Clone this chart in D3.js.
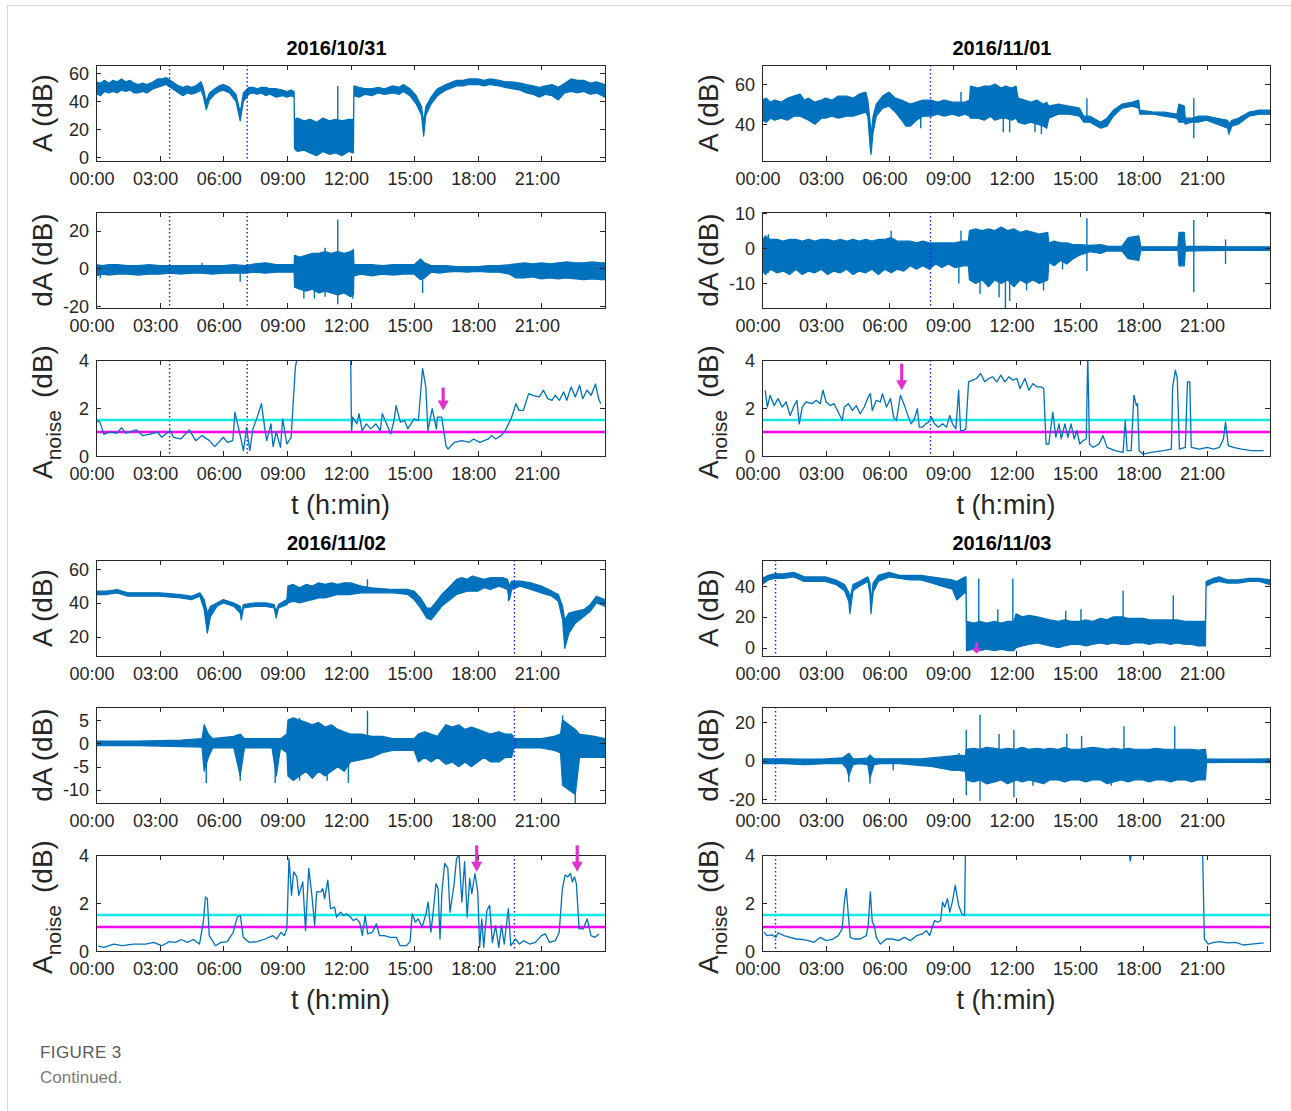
<!DOCTYPE html>
<html><head><meta charset="utf-8">
<script src="https://cdn.jsdelivr.net/npm/d3@7"></script>
<style>
body{margin:0;background:#fff;}
svg text{font-family:"Liberation Sans", Arial, Helvetica, sans-serif;}
</style></head><body>
<svg id="fig" width="1291" height="1111"></svg>
<script>
/* Four days of ground-wave amplitude: A, its derivative dA and the noise level.
   Dense noisy traces are kept as [hour, low, high] envelopes,
   isolated spikes as [hour, from, to], the noise level as [hour, value]. */

const X_TICKS = [0, 3, 6, 9, 12, 15, 18, 21];
const N_TICKS = [0, 2, 4];
const CYAN_LEVEL = 1.5, MAGENTA_LEVEL = 1.0;

// ---------- 2016/10/31 ----------
const A_1031 = [[0,46,54],[0.2,44,53],[0.4,47,55],[0.6,46,53],[0.8,47,55],[1,46,54],[1.2,48,56],[1.4,47,54],[1.6,48,55],[1.8,46,53],[2,46,52],[2.2,47,53],[2.4,46,52],[2.7,49,54],[2.9,50,56],[3.1,51,56],[3.3,52,57],[3.5,50,55],[3.7,48,53],[3.9,46,51],[4.1,44,50],[4.3,46,51],[4.5,45,50],[4.7,46,51],[4.95,48,54],[5.05,44,50],[5.2,34,40],[5.35,41,46],[5.6,45,49],[5.8,47,51],[6,48,52],[6.3,46,50],[6.6,40,45],[6.8,26,32],[6.95,40,46],[7.2,45,50],[7.4,46,50],[7.6,45,49],[7.8,46,50],[8,44,50],[8.2,45,49],[8.5,43,49],[8.8,44,48],[9,43,47],[9.2,44,48],[9.34,43,47],[9.36,6,27],[9.5,4,28],[9.8,5,26],[10.1,3,27],[10.4,1,25],[10.7,4,28],[11,2,26],[11.3,3,27],[11.6,1,26],[11.9,4,27],[12.14,3,27],[12.16,44,51],[12.4,43,50],[12.7,45,49],[13,44,49],[13.3,46,50],[13.6,45,49],[14,46,51],[14.3,45,50],[14.5,47,52],[14.8,44,49],[15.1,38,44],[15.35,30,36],[15.45,15,25],[15.55,30,36],[15.8,38,43],[16.1,44,49],[16.5,48,52],[17,51,55],[17.3,51,55],[17.6,52,56],[18,52,56],[18.3,51,55],[18.6,52,56],[19,51,55],[19.3,50,54],[19.6,49,54],[20,48,53],[20.3,46,52],[20.6,45,51],[20.9,43,50],[21.2,45,51],[21.5,44,52],[21.8,41,50],[22.1,46,53],[22.4,47,56],[22.7,46,55],[23,47,55],[23.3,45,53],[23.6,46,54],[24,43,52]];
const A_1031_SPIKES = [[11.4,27,51]];
const DA_1031 = [[0,-4,2],[0.3,-3,1.5],[0.6,-3.5,2],[1,-3,2],[1.5,-3,1.5],[2,-3.5,1.5],[2.5,-3,2],[3,-3,1.5],[3.5,-2.5,1.5],[4,-3,1.5],[4.5,-2.5,1.5],[5,-2.5,1.5],[5.5,-3,1.5],[6,-2.5,1.5],[6.5,-2.5,2],[7,-2.5,1.5],[7.5,-2,2.5],[8,-2.5,3],[8.5,-2,2],[9,-2,2],[9.34,-2,2],[9.36,-10,7],[9.6,-11,6],[9.9,-12,7],[10.2,-11,8],[10.5,-13,8],[10.8,-12,9],[11.1,-13,8],[11.4,-14,9],[11.7,-13,8],[12,-15,9],[12.14,-14,10],[12.16,-4,2],[12.5,-3,2],[13,-4,2],[13.5,-3,1.5],[14,-3.5,2],[14.5,-3,2],[15,-3,2],[15.3,-6,5],[15.5,-5,3],[15.8,-2,1.5],[16.2,-2.5,1.5],[16.5,-2,1.5],[17,-1.5,1],[17.5,-2,1],[18,-1.5,1],[18.5,-2,1.5],[19,-2,1.5],[19.5,-3,2],[19.8,-5,2.5],[20.2,-5,3],[20.6,-4.5,2.5],[21,-5.5,3],[21.4,-5,2.5],[21.8,-5.5,3],[22.2,-5,3.5],[22.6,-5.5,3],[23,-6,3],[23.4,-5.5,3.5],[23.8,-6,3],[24,-6,3]];
const DA_1031_SPIKES = [[6.8,-7,0],[9.8,-16,0],[10.8,-15,11],[11.4,-19,26],[12.1,-16,0],[15.4,-13,0],[5.0,0,3],[0.2,-5,0],[10.3,-16,0]];
const N_1031 = [[0,1.48],[0.19,1.41],[0.37,0.9],[0.66,1.0],[1.0,0.95],[1.2,1.18],[1.4,0.95],[1.9,1.09],[2.2,0.85],[2.5,0.9],[2.9,1.0],[3.1,0.78],[3.5,1.06],[3.65,0.78],[4.0,0.71],[4.4,1.09],[4.7,0.64],[5.0,0.85],[5.35,0.64],[5.6,0.39],[6.0,0.78],[6.2,0.57],[6.45,0.64],[6.55,1.83],[6.75,1.06],[6.95,0.22],[7.1,1.18],[7.25,0.22],[7.4,1.13],[7.6,1.62],[7.8,2.18],[7.95,1.2],[8.05,0.64],[8.25,1.34],[8.35,0.39],[8.5,1.0],[8.7,0.36],[8.8,1.55],[9.0,0.5],[9.2,0.78],[9.4,3.7],[9.55,4.4],[9.8,4.6],[10.0,3.97],[10.1,4.5],[11,4.8],[12.0,4.6],[12.05,1.0],[12.1,1.62],[12.3,1.34],[12.4,1.76],[12.55,1.06],[12.75,1.34],[12.95,1.13],[13.2,1.34],[13.4,1.06],[13.5,1.76],[13.7,1.34],[13.9,0.92],[14.05,1.48],[14.15,2.1],[14.35,1.41],[14.55,1.48],[14.7,1.13],[15.0,1.55],[15.2,1.48],[15.4,3.65],[15.55,2.88],[15.65,1.06],[15.85,1.97],[16.05,1.13],[16.1,1.62],[16.3,1.62],[16.5,0.43],[16.6,0.29],[16.9,0.57],[17.25,0.64],[17.6,0.57],[17.8,0.71],[18.1,0.57],[18.5,0.71],[18.65,0.85],[18.85,0.71],[19.1,0.85],[19.3,1.06],[19.6,1.62],[19.8,2.18],[19.95,1.9],[20.15,1.9],[20.4,2.6],[20.6,2.53],[20.9,2.46],[21.1,2.74],[21.3,2.39],[21.5,2.32],[21.65,2.53],[21.85,2.32],[22.05,2.67],[22.2,2.32],[22.4,2.88],[22.6,2.46],[22.8,2.95],[22.95,2.39],[23.15,2.74],[23.35,2.53],[23.55,3.0],[23.7,2.39],[23.8,2.18]];
const MARK_1031 = [3.47, 7.13];
const ARROW_1031 = [[16.37, 2.85, 1.9]];          // [hour, top, tip] in the noise panel
const A_1031_Y = [-2.8, 66], A_1031_TICKS = [0, 20, 40, 60];
const DA_1031_Y = [-21, 30], DA_1031_TICKS = [-20, 0, 20];

// ---------- 2016/11/01 ----------
const A_1101 = [[0,42,52],[0.2,41,53],[0.4,43,51],[0.6,42,52],[0.9,43,51],[1.2,42,53],[1.5,44,54],[1.8,44,55],[2.0,43,52],[2.2,42,53],[2.5,40,51],[2.8,43,52],[3,43,53],[3.3,44,52],[3.6,43,54],[4,44,54],[4.3,44,53],[4.6,45,55],[4.9,46,56],[5.0,44,52],[5.1,30,42],[5.15,25,35],[5.25,36,44],[5.4,44,50],[5.7,48,54],[6,49,56],[6.3,46,53],[6.6,42,52],[6.8,39,51],[7,39,50],[7.3,42,51],[7.6,44,52],[8,44,52],[8.3,45,51],[8.6,44,52],[9,45,51],[9.3,44,51],[9.6,45,51],[9.8,44,52],[9.85,43,59],[10.2,43,58],[10.5,42,59],[10.8,44,59],[11,42,60],[11.3,43,58],[11.5,43,59],[11.8,42,58],[12,43,59],[12.1,41,53],[12.4,40,52],[12.7,41,51],[13,40,52],[13.3,39,50],[13.45,38,51],[13.55,43,49],[14,45,50],[14.5,45,49],[15,44,48],[15.2,41,44],[15.5,41,44],[16,38,41],[16.3,39,43],[16.6,44,47],[17,48,50],[17.5,49,51],[17.8,48,52],[17.85,45,47],[18.5,45,46],[19,44,46],[19.6,43,45],[19.7,41,50],[19.95,41,49],[20.0,40,43],[20.3,41,43],[20.6,41,44],[21,42,44],[21.5,40,43],[22,38,42],[22.05,35,40],[22.2,39,42],[22.5,40,43],[23,44,46],[23.5,45,47],[24,45,47]];
const A_1101_SPIKES = [[9.4,49,56],[11.4,36,45],[11.7,36,45],[13.2,35,45],[15.35,42,53],[20.4,33,53],[7.5,38,44],[12.9,36,44]];
const DA_1101 = [[0,-6,2],[0.15,-7.5,3.5],[0.4,-6,2.5],[0.7,-7,2.5],[1.0,-6.5,2],[1.3,-7.5,2.5],[1.6,-6,2.5],[1.9,-7.5,2],[2.2,-6.5,2.5],[2.5,-7,2],[2.8,-6,2.5],[3.1,-7.5,2.5],[3.4,-6.5,2],[3.7,-7,2.5],[4.0,-6,2],[4.3,-7.5,2.5],[4.6,-6.5,2],[4.9,-7,2.5],[5.2,-6,2],[5.5,-7.5,2.5],[5.8,-6,2.5],[6.1,-7,3],[6.4,-6,2],[6.7,-6.5,2],[7.0,-5,2],[7.3,-6,1.5],[7.6,-5,2],[7.9,-6,1.5],[8.2,-4.5,1.5],[8.5,-5.5,1.5],[8.8,-4.5,1.5],[9.1,-5.5,1.5],[9.5,-5,2],[9.75,-5,2],[9.8,-9,5],[10.1,-10,5.5],[10.4,-9,5],[10.7,-11,5.5],[11.0,-9,5],[11.3,-10,6],[11.6,-9,5],[11.9,-11,5.5],[12.2,-9,4.5],[12.5,-10,5],[12.8,-9,4.5],[13.1,-10,4],[13.5,-9,4.5],[13.55,-4,1.5],[13.8,-5,2],[14.1,-3.5,1.5],[14.4,-4.5,1.5],[14.7,-3,1],[15,-2,1],[15.5,-1,0.8],[16,-1.5,1],[16.3,-0.8,0.6],[17,-0.8,0.5],[17.3,-3,3],[17.8,-3.5,3.5],[17.9,-0.6,0.4],[19,-0.6,0.4],[19.65,-0.6,0.4],[19.7,-5,4.5],[19.95,-5,4.5],[20.0,-0.8,0.5],[21,-0.7,0.5],[22,-0.6,0.4],[23,-0.6,0.4],[24,-0.6,0.4]];
const DA_1101_SPIKES = [[0.3,-7,4],[6.1,0,5],[9.3,-10,0],[9.4,0,5],[11.5,-17,0],[11.7,-15,0],[12.5,-12,0],[13.3,-12,0],[15.35,-6.5,8.5],[20.4,-12.5,8],[21.9,-4.5,2.5],[14.2,-6,0],[10.3,-13,0],[11.2,-14,0]];
const N_1101 = [[0.15,2.74],[0.25,2.04],[0.38,2.53],[0.57,2.1],[0.76,2.39],[0.95,2.04],[1.14,2.25],[1.33,1.69],[1.52,2.1],[1.65,2.32],[1.76,1.34],[1.9,2.04],[2.08,2.25],[2.37,2.18],[2.56,2.32],[2.75,2.18],[2.88,2.74],[3.03,2.25],[3.22,2.1],[3.41,2.18],[3.6,1.83],[3.79,1.48],[3.89,2.04],[4.08,2.18],[4.27,1.9],[4.45,2.1],[4.64,1.76],[4.83,2.04],[5.02,2.46],[5.12,2.6],[5.21,1.9],[5.4,2.32],[5.59,2.25],[5.69,2.6],[5.88,2.04],[6.07,2.39],[6.22,1.62],[6.35,1.48],[6.54,2.53],[6.73,2.1],[6.92,1.62],[7.05,1.34],[7.2,1.55],[7.34,1.97],[7.43,1.2],[7.58,1.2],[7.73,1.34],[7.87,1.41],[8.0,1.62],[8.15,1.34],[8.34,1.2],[8.53,1.34],[8.72,1.2],[8.87,1.69],[9.0,1.34],[9.16,1.13],[9.29,2.74],[9.38,1.06],[9.52,1.06],[9.63,1.13],[9.76,3.09],[9.95,3.16],[10.14,3.23],[10.33,3.44],[10.52,3.09],[10.71,3.23],[10.9,3.3],[11.09,3.09],[11.28,3.37],[11.47,3.09],[11.66,3.3],[11.85,3.16],[12.04,3.23],[12.19,2.81],[12.42,3.23],[12.61,2.74],[12.8,3.02],[12.99,2.88],[13.18,2.88],[13.31,2.81],[13.42,0.5],[13.55,0.5],[13.74,1.83],[13.88,0.78],[14.03,1.34],[14.14,0.71],[14.31,1.34],[14.45,0.78],[14.6,1.34],[14.75,0.71],[14.88,1.06],[15.01,0.5],[15.17,0.64],[15.32,0.71],[15.39,4.2],[15.47,0.5],[15.64,0.36],[15.92,0.5],[16.11,0.85],[16.3,0.36],[16.68,0.22],[17.06,0.15],[17.16,1.48],[17.25,0.22],[17.44,0.22],[17.57,2.53],[17.69,2.1],[17.74,2.18],[17.82,0.22],[18.0,0.08],[18.39,0.15],[18.96,0.22],[19.34,0.29],[19.4,2.88],[19.53,3.58],[19.62,3.23],[19.72,0.29],[20.0,0.36],[20.1,3.09],[20.21,3.09],[20.28,0.36],[20.66,0.29],[21.04,0.36],[21.33,0.29],[21.61,0.36],[21.8,0.71],[21.9,1.41],[22.03,0.43],[22.27,0.36],[22.65,0.29],[23.13,0.22],[23.7,0.22]];
const MARK_1101 = [7.96];
const ARROW_1101 = [[6.6, 3.85, 2.74]];
const A_1101_Y = [21.7, 69.5], A_1101_TICKS = [40, 60];
const DA_1101_Y = [-17, 10.3], DA_1101_TICKS = [-10, 0, 10];

// ---------- 2016/11/02 ----------
const A_1102 = [[0,45,47],[0.5,45,47],[1,46,48],[1.5,44,46],[2,44,46],[3,44,46],[4,43,45],[4.5,42,44],[4.9,44,46],[5.1,36,42],[5.25,22,34],[5.4,32,38],[5.7,38,40],[6,40,42],[6.5,38,40],[6.8,34,38],[6.85,30,34],[6.95,37,39],[7.5,38,40],[8,38,40],[8.4,37,39],[8.5,31,35],[8.6,37,39],[9,39,42],[9.05,40,50],[9.3,41,51],[9.6,40,49],[9.9,41,51],[10.2,42,50],[10.5,43,52],[10.8,43,51],[11.1,44,52],[11.4,45,51],[11.7,45,52],[12,45,52],[12.5,46,50],[13,46,49],[14,46,48],[14.7,45,48],[15,42,47],[15.3,37,43],[15.6,31,37],[15.8,30,37],[16,33,40],[16.3,38,45],[16.7,42,50],[17,45,54],[17.25,46,55],[17.5,47,54],[17.75,47,56],[18,47,55],[18.3,49,54],[18.6,48,55],[19,50,55],[19.2,49,55],[19.4,48,54],[19.5,42,50],[19.6,48,53],[20,50,53],[20.5,48,52],[21,46,50],[21.5,44,47],[21.8,41,45],[22.0,30,38],[22.1,13,30],[22.3,22,34],[22.6,28,35],[23,32,36],[23.3,35,39],[23.6,40,44],[24,38,42]];
const A_1102_SPIKES = [[12.8,48,54],[19.45,41,50]];
const DA_1102 = [[0,-0.5,0.5],[2,-0.5,0.5],[4,-0.7,0.7],[5,-0.8,1],[5.1,-6,4],[5.3,-3,2],[5.5,-1,1],[6.5,-1,1.5],[6.8,-7,2],[7,-1,1],[8.3,-1,1],[8.5,-7,1],[8.7,-1,1],[9,-2,2],[9.05,-7,5],[9.3,-8,5.5],[9.6,-7,5],[9.9,-6,4.5],[10.2,-7.5,4],[10.5,-6,4.5],[10.8,-7,3.5],[11.1,-6,4],[11.4,-5,3],[11.7,-6,2.5],[12,-4,2],[12.5,-3.5,2],[13,-3,1.5],[13.5,-2,1.5],[14,-1.5,1],[15,-1.5,1],[15.2,-4,2],[15.5,-3,2.5],[15.8,-4,2],[16.1,-3,1.5],[16.5,-4.5,4],[16.8,-4,3.5],[17.1,-5,4],[17.4,-4,3],[17.7,-5,3.5],[18,-4,3],[18.3,-3,2.5],[18.6,-4,2],[19,-4,2.5],[19.3,-3,2],[19.6,-3,2],[19.7,-1,1],[21,-1,1],[21.6,-1.5,1.5],[21.9,-2,2],[22.0,-9,5],[22.3,-10,4],[22.6,-11,3],[22.8,-3,2],[23.5,-3,1.5],[24,-3,1]];
const DA_1102_SPIKES = [[5.2,-8.5,0],[6.8,-8,0],[8.45,-8.5,0],[9.6,-8,5.5],[11.9,-8.5,0],[12.8,0,7],[22.6,-12.8,0],[22.0,0,6],[10.9,-8,0]];
const N_1102 = [[0.1,0.2],[0.37,0.15],[0.84,0.29],[1.22,0.22],[1.78,0.29],[2.34,0.29],[2.72,0.36],[3.1,0.22],[3.47,0.39],[3.75,0.36],[4.03,0.48],[4.31,0.36],[4.59,0.48],[4.88,0.29],[5.06,1.2],[5.16,2.25],[5.25,2.18],[5.34,0.64],[5.63,0.22],[5.9,0.36],[6.19,0.39],[6.47,0.78],[6.66,1.41],[6.81,1.48],[6.94,0.57],[7.22,0.36],[7.59,0.39],[7.97,0.5],[8.34,0.64],[8.53,0.5],[8.72,0.78],[8.87,0.64],[9.0,0.92],[9.1,3.86],[9.22,2.32],[9.32,3.3],[9.47,3.09],[9.56,2.32],[9.75,2.88],[9.88,0.85],[10.03,3.44],[10.18,2.32],[10.31,1.06],[10.4,2.46],[10.6,2.46],[10.69,2.6],[10.78,2.18],[10.93,2.95],[11.06,1.76],[11.25,1.83],[11.34,1.41],[11.53,1.62],[11.68,1.48],[11.81,1.55],[12.0,1.41],[12.13,1.27],[12.28,1.34],[12.43,1.2],[12.56,0.64],[12.69,1.48],[12.81,0.71],[13.03,0.78],[13.22,1.13],[13.37,0.64],[13.59,0.64],[13.87,0.57],[14.16,0.57],[14.34,0.22],[14.63,0.22],[14.81,0.39],[14.91,1.55],[15.06,1.2],[15.19,1.34],[15.38,1.0],[15.56,1.55],[15.66,2.04],[15.79,0.78],[15.9,1.62],[16.03,2.81],[16.13,2.6],[16.22,0.5],[16.31,2.46],[16.44,3.65],[16.59,3.44],[16.69,1.62],[16.88,2.74],[17.0,3.86],[17.12,4.0],[17.25,2.04],[17.38,3.72],[17.5,1.41],[17.62,3.02],[17.72,2.39],[17.87,3.23],[18.0,2.46],[18.09,0.15],[18.19,1.34],[18.28,0.15],[18.43,1.69],[18.56,1.9],[18.69,0.36],[18.84,1.06],[18.99,0.15],[19.12,1.06],[19.25,0.29],[19.44,1.76],[19.56,0.22],[19.78,0.5],[19.97,0.29],[20.16,0.43],[20.44,0.29],[20.72,0.36],[21.0,0.64],[21.19,0.71],[21.38,0.36],[21.66,0.43],[21.84,0.78],[21.99,2.6],[22.12,3.16],[22.25,3.09],[22.37,3.23],[22.46,2.88],[22.56,3.09],[22.65,2.81],[22.78,0.92],[22.97,0.92],[23.16,1.34],[23.34,0.64],[23.53,0.57],[23.72,0.71]];
const MARK_1102 = [19.73];
const ARROW_1102 = [[17.95, 4.4, 3.3], [22.69, 4.4, 3.3]];
const A_1102_Y = [8.5, 65.5], A_1102_TICKS = [20, 40, 60];
const DA_1102_Y = [-12.8, 7.8], DA_1102_TICKS = [-10, -5, 0, 5];

// ---------- 2016/11/03 ----------
const A_1103 = [[0,41,45],[0.3,44,47],[0.6,45,48],[1,45,48],[1.5,46,49],[2,43,46],[2.5,43,46],[3,43,46],[3.5,41,44],[3.9,37,41],[4.1,30,36],[4.15,22,32],[4.3,37,41],[4.6,40,43],[5,43,46],[5.1,35,42],[5.15,22,30],[5.25,36,42],[5.5,43,47],[6,46,49],[6.5,45,47],[7,44,47],[7.5,44,47],[8,42,46],[8.5,40,45],[9,38,44],[9.2,31,43],[9.6,36,46],[9.64,35,46],[9.66,-2,17],[10,-1,16],[10.3,-2,17],[10.6,-1,16],[11,-2,17],[11.3,-1,16],[11.6,-2,17],[11.9,-2,17],[12,0,22],[12.3,1,20],[12.6,2,21],[13,3,20],[13.3,2,19],[13.6,1,18],[14,0,17],[14.3,1,18],[14.6,2,17],[15,2,17],[15.3,1,18],[15.6,2,17],[16,3,19],[16.3,2,18],[16.6,3,20],[17,2,20],[17.3,2,19],[17.6,3,19],[18,3,19],[18.3,2,18],[18.6,3,18],[19,3,18],[19.3,2,18],[19.6,3,18],[20,2,17],[20.3,2,17],[20.6,1,17],[20.95,1,17],[20.98,40,43],[21.3,42,45],[21.6,43,46],[22,42,44],[22.5,42,44],[23,43,45],[23.5,43,45],[24,41,44]];
const A_1103_SPIKES = [[10.24,15,45],[11.14,15,25],[11.85,15,45],[14.35,15,24],[15.07,15,25],[17.06,15,37],[19.43,15,34]];
const DA_1103 = [[0,-1.5,1],[1,-1.5,1],[2,-2,0.8],[3,-1.5,1],[3.8,-1.5,1.5],[4.0,-4,3],[4.1,-8,4],[4.3,-2,1],[4.6,-1.5,1],[5.0,-2,1.5],[5.1,-9,3],[5.3,-2,1],[5.6,-1.5,1],[6.5,-1.5,1],[7,-2,1],[7.5,-2.5,1],[8,-3,1.5],[8.5,-4,2],[9,-5,2.5],[9.3,-5,3],[9.6,-5.5,2.5],[9.65,-10,6],[10,-11,6.5],[10.3,-10,6],[10.6,-12,7],[11,-11,6.5],[11.3,-10,6],[11.6,-12,6.5],[12,-10,6],[12.3,-11,7],[12.6,-10,6],[13,-11,6.5],[13.3,-12,6],[13.6,-10,6.5],[14,-10,6],[14.3,-11,7],[14.6,-10,6],[15,-10,6],[15.3,-11,6.5],[15.6,-10,7],[16,-10,6.5],[16.3,-12,6],[16.6,-11,6.5],[17,-10,6],[17.3,-11,6.5],[17.6,-10,6],[18,-10,6],[18.3,-11,6],[18.6,-10,6.5],[19,-10,6],[19.3,-11,6],[19.6,-10,6],[20,-10,6],[20.3,-11,6],[20.6,-10,5.5],[20.95,-10,6],[21,-1,1],[22,-0.8,0.8],[23,-0.8,0.8],[24,-1,1]];
const DA_1103_SPIKES = [[4.1,-11,0],[5.1,-12,0],[6.2,-5,0],[9.3,0,4],[9.65,-18,16],[10.3,-21,24],[11.2,0,14],[11.9,-19,16],[12.8,-13,0],[14.4,0,14],[15.1,0,13],[17.1,0,18],[19.5,0,18],[16.5,-13,0]];
const N_1103 = [[0.1,0.78],[0.23,0.64],[0.47,0.67],[0.66,0.57],[0.76,0.76],[1.04,0.64],[1.33,0.57],[1.61,0.5],[1.9,0.48],[2.18,0.43],[2.46,0.36],[2.75,0.57],[3.03,0.43],[3.32,0.48],[3.6,0.64],[3.79,0.92],[3.89,2.04],[3.98,2.6],[4.08,1.48],[4.17,0.57],[4.36,0.5],[4.64,0.5],[4.93,0.64],[5.02,1.13],[5.12,2.46],[5.21,1.2],[5.31,1.06],[5.4,0.57],[5.59,0.29],[5.88,0.5],[6.16,0.5],[6.45,0.43],[6.73,0.57],[7.01,0.43],[7.3,0.64],[7.58,0.71],[7.77,0.85],[7.92,0.64],[8.15,1.27],[8.3,1.2],[8.44,1.27],[8.53,2.04],[8.63,1.83],[8.76,2.18],[8.87,1.62],[8.99,2.04],[9.13,2.74],[9.29,1.9],[9.44,1.55],[9.57,1.48],[9.62,4.6],[12,5],[17.3,4.3],[17.4,3.75],[17.5,4.3],[20.8,4.8],[20.9,0.5],[21.08,0.29],[21.33,0.36],[21.61,0.39],[21.99,0.34],[22.37,0.36],[22.75,0.25],[23.13,0.29],[23.7,0.34]];
const MARK_1103 = [0.64];
const ARROW_1103_A = [[10.14, 3.3, -3.8]];      // this day's arrow sits in the A panel
const A_1103_Y = [-5.5, 57], A_1103_TICKS = [0, 20, 40];
const DA_1103_Y = [-22, 28], DA_1103_TICKS = [-20, 0, 20];

// ---------- layout ----------
const BLUE = "#0072bd", MAGENTA = "#ff00ff", CYAN = "#12e8e8", ARROW = "#e030d0";
const COLS = [[96, 605], [762, 1270]];
const PANELS = [[65, 161], [212, 308], [360, 456]];   // A, dA, noise (top row)
const ROW_SHIFT = 495;

const DAYS = [
  {title:"2016/10/31", col:0, row:0, a:A_1031, aS:A_1031_SPIKES, aY:A_1031_Y, aT:A_1031_TICKS,
   d:DA_1031, dS:DA_1031_SPIKES, dY:DA_1031_Y, dT:DA_1031_TICKS, n:N_1031, marks:MARK_1031, nArrows:ARROW_1031, aArrows:[]},
  {title:"2016/11/01", col:1, row:0, a:A_1101, aS:A_1101_SPIKES, aY:A_1101_Y, aT:A_1101_TICKS,
   d:DA_1101, dS:DA_1101_SPIKES, dY:DA_1101_Y, dT:DA_1101_TICKS, n:N_1101, marks:MARK_1101, nArrows:ARROW_1101, aArrows:[]},
  {title:"2016/11/02", col:0, row:1, a:A_1102, aS:A_1102_SPIKES, aY:A_1102_Y, aT:A_1102_TICKS,
   d:DA_1102, dS:DA_1102_SPIKES, dY:DA_1102_Y, dT:DA_1102_TICKS, n:N_1102, marks:MARK_1102, nArrows:ARROW_1102, aArrows:[]},
  {title:"2016/11/03", col:1, row:1, a:A_1103, aS:A_1103_SPIKES, aY:A_1103_Y, aT:A_1103_TICKS,
   d:DA_1103, dS:DA_1103_SPIKES, dY:DA_1103_Y, dT:DA_1103_TICKS, n:N_1103, marks:MARK_1103, nArrows:[], aArrows:ARROW_1103_A}
];

const svg = d3.select("#fig");
const defs = svg.append("defs");
const hhmm = h => String(h).padStart(2, "0") + ":00";
let clipId = 0;

// card frame
svg.append("line").attr("x1", 7.5).attr("x2", 7.5).attr("y1", 5).attr("y2", 1111).attr("stroke", "#d9d9d9");
svg.append("line").attr("x1", 7).attr("x2", 1291).attr("y1", 5.5).attr("y2", 5.5).attr("stroke", "#d9d9d9");

// one MATLAB-style axes box: ticks inside on all four sides
function axesBox(x, y, yTicks){
  const g = svg.append("g");
  const [x0, x1] = x.range(), [yb, yt] = y.range();
  const tl = 5, c = "#262626";
  X_TICKS.forEach(h => {
    const px = Math.round(x(h)) + 0.5;
    g.append("line").attr("x1", px).attr("x2", px).attr("y1", yb).attr("y2", yb - tl).attr("stroke", c);
    g.append("line").attr("x1", px).attr("x2", px).attr("y1", yt).attr("y2", yt + tl).attr("stroke", c);
    g.append("text").attr("x", x(h) - 4).attr("y", yb + 24).attr("text-anchor", "middle")
      .attr("font-size", 18).attr("fill", c).text(hhmm(h));
  });
  yTicks.forEach(v => {
    const py = Math.round(y(v)) + 0.5;
    g.append("line").attr("x1", x0).attr("x2", x0 + tl).attr("y1", py).attr("y2", py).attr("stroke", c);
    g.append("line").attr("x1", x1).attr("x2", x1 - tl).attr("y1", py).attr("y2", py).attr("stroke", c);
    g.append("text").attr("x", x0 - 7).attr("y", y(v) + 6.5).attr("text-anchor", "end")
      .attr("font-size", 18).attr("fill", c).text(v);
  });
  g.append("rect").attr("x", x0 + 0.5).attr("y", yt + 0.5).attr("width", x1 - x0).attr("height", yb - yt)
    .attr("fill", "none").attr("stroke", c).attr("stroke-width", 1);
}

function clipFor(x, y){
  const id = "clip" + (clipId++);
  const [x0, x1] = x.range(), [yb, yt] = y.range();
  defs.append("clipPath").attr("id", id).append("rect")
    .attr("x", x0).attr("y", yt).attr("width", x1 - x0).attr("height", yb - yt);
  return svg.append("g").attr("clip-path", `url(#${id})`);
}

// noisy trace as a filled envelope plus its spikes
function drawBand(g, x, y, band, spikes){
  const area = d3.area().x(d => x(d[0])).y0(d => y(d[1])).y1(d => y(d[2]));
  g.append("path").datum(band).attr("d", area)
    .attr("fill", BLUE).attr("stroke", BLUE).attr("stroke-width", 1.2).attr("stroke-linejoin", "round");
  g.selectAll(null).data(spikes).join("line")
    .attr("x1", d => x(d[0])).attr("x2", d => x(d[0]))
    .attr("y1", d => y(d[1])).attr("y2", d => y(d[2]))
    .attr("stroke", BLUE).attr("stroke-width", 1.4);
}

function drawMarks(g, x, y, marks){
  const [yb, yt] = y.range();
  g.selectAll(null).data(marks).join("line")
    .attr("x1", d => x(d)).attr("x2", d => x(d)).attr("y1", yt).attr("y2", yb)
    .attr("stroke", "#1a1aff").attr("stroke-width", 1.4).attr("stroke-dasharray", "1.5,2.5");
}

function drawArrows(x, y, arrows){
  arrows.forEach(([h, top, tip]) => {
    const px = x(h), y0 = y(top), y1 = y(tip), head = Math.min(10, (y1 - y0) * 0.45);
    svg.append("line").attr("x1", px).attr("x2", px).attr("y1", y0).attr("y2", y1 - head + 1)
      .attr("stroke", ARROW).attr("stroke-width", 3.2);
    svg.append("path").attr("d", `M${px - 5.5},${y1 - head}L${px + 5.5},${y1 - head}L${px},${y1}Z`)
      .attr("fill", ARROW);
  });
}

function yLabel(cx, cy, parts){
  const t = svg.append("text").attr("transform", `translate(${cx},${cy}) rotate(-90)`)
    .attr("text-anchor", "middle").attr("font-size", 28).attr("fill", "#262626");
  parts(t);
}

DAYS.forEach(day => {
  const [cx0, cx1] = COLS[day.col];
  const off = day.row * ROW_SHIFT;
  const x = d3.scaleLinear().domain([0, 24]).range([cx0, cx1]);
  const yA = d3.scaleLinear().domain(day.aY).range([PANELS[0][1] + off, PANELS[0][0] + off]);
  const yD = d3.scaleLinear().domain(day.dY).range([PANELS[1][1] + off, PANELS[1][0] + off]);
  const yN = d3.scaleLinear().domain([0, 4]).range([PANELS[2][1] + off, PANELS[2][0] + off]);
  const mid = (cx0 + cx1) / 2;

  svg.append("text").attr("x", mid - 14).attr("y", 55 + off).attr("text-anchor", "middle")
    .attr("font-size", 20).attr("font-weight", "bold").attr("fill", "#000").text(day.title);

  // A
  let g = clipFor(x, yA);
  drawBand(g, x, yA, day.a, day.aS);
  drawMarks(g, x, yA, day.marks);
  axesBox(x, yA, day.aT);
  drawArrows(x, yA, day.aArrows);

  // dA
  g = clipFor(x, yD);
  drawBand(g, x, yD, day.d, day.dS);
  drawMarks(g, x, yD, day.marks);
  axesBox(x, yD, day.dT);

  // noise level with the two thresholds
  g = clipFor(x, yN);
  drawMarks(g, x, yN, day.marks);
  [[CYAN_LEVEL, CYAN], [MAGENTA_LEVEL, MAGENTA]].forEach(([v, c]) =>
    g.append("line").attr("x1", cx0).attr("x2", cx1).attr("y1", yN(v)).attr("y2", yN(v))
      .attr("stroke", c).attr("stroke-width", 2.4));
  g.append("path").datum(day.n).attr("d", d3.line().x(d => x(d[0])).y(d => yN(d[1])))
    .attr("fill", "none").attr("stroke", BLUE).attr("stroke-width", 1.3).attr("stroke-linejoin", "round");
  axesBox(x, yN, N_TICKS);
  drawArrows(x, yN, day.nArrows);

  // axis titles
  const lx = cx0 - 44;
  yLabel(lx, (PANELS[0][0] + PANELS[0][1]) / 2 + off, t => t.text("A (dB)"));
  yLabel(lx, (PANELS[1][0] + PANELS[1][1]) / 2 + off, t => t.text("dA (dB)"));
  yLabel(lx, (PANELS[2][0] + PANELS[2][1]) / 2 + off + 4, t => {
    t.append("tspan").text("A");
    t.append("tspan").attr("font-size", 21).attr("dy", 9).text("noise");
    t.append("tspan").attr("dy", -9).attr("dx", 12).text("(dB)");
  });
  svg.append("text").attr("x", mid - 10).attr("y", PANELS[2][1] + off + 58).attr("text-anchor", "middle")
    .attr("font-size", 27).attr("fill", "#262626").text("t (h:min)");
});

// caption
svg.append("text").attr("x", 40).attr("y", 1058).attr("font-size", 17).attr("fill", "#5a5a5a")
  .attr("letter-spacing", 0.4).text("FIGURE 3");
svg.append("text").attr("x", 40).attr("y", 1083).attr("font-size", 17).attr("fill", "#7a7a7a")
  .text("Continued.");
</script>
</body></html>
